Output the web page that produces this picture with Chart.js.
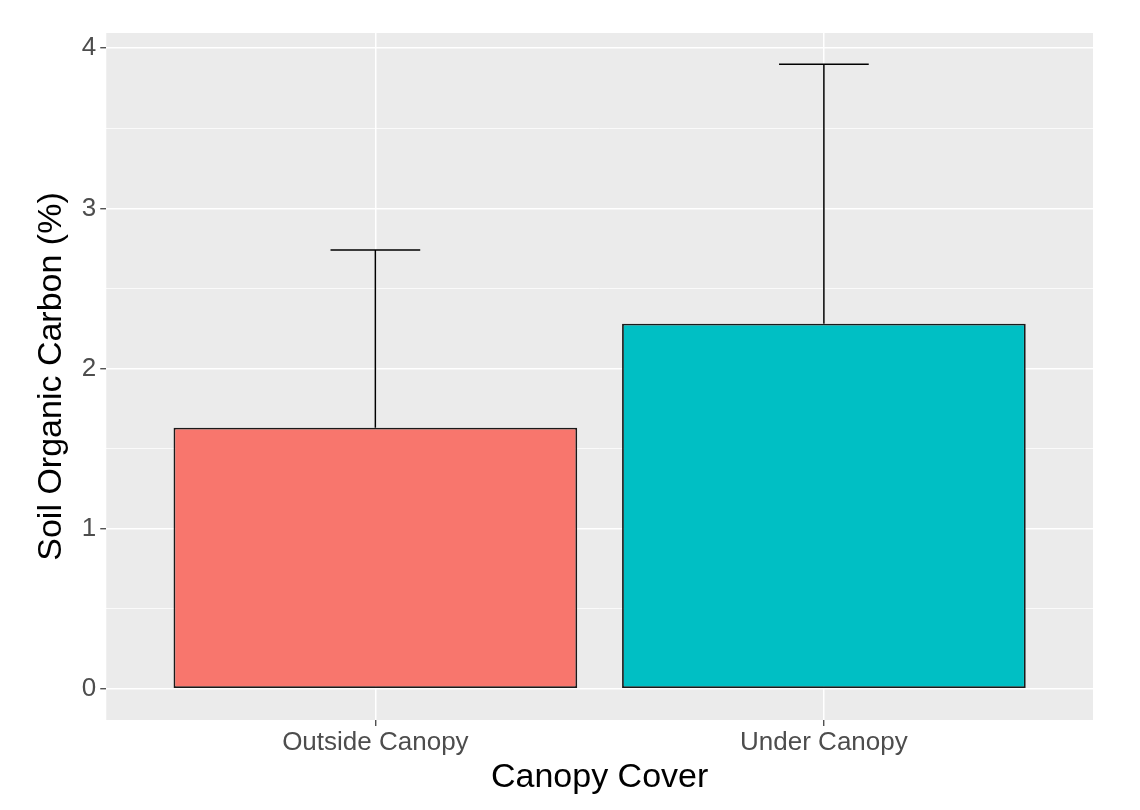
<!DOCTYPE html>
<html>
<head>
<meta charset="utf-8">
<script src="https://cdn.jsdelivr.net/npm/chart.js@4"></script>
<style>
  body { margin: 0; background: #fff; }
  #wrap { width: 1140px; height: 810px; }
</style>
</head>
<body>
<div id="wrap"><canvas id="socChart" width="1140" height="810"></canvas></div>
<script>
const categories = ['Outside Canopy', 'Under Canopy'];
const catPositions = [1, 2];
const meanSOC = [1.63, 2.28];
const upperSOC = [2.74, 3.90];
const yMajorTicks = [0, 1, 2, 3, 4];
const yMinorTicks = [0.5, 1.5, 2.5, 3.5];
const barColors = ['#F8766D', '#00BFC4'];

const FONT = '"Liberation Sans", Arial, sans-serif';

// grey ggplot panel behind the grid
const panelBg = {
    id: 'panelBg',
    beforeDraw(chart) {
        const a = chart.chartArea;
        const ctx = chart.ctx;
        ctx.save();
        ctx.fillStyle = '#EBEBEB';
        ctx.fillRect(a.left, a.top, a.right - a.left, a.bottom - a.top);
        ctx.restore();
    }
};

// upper error bars, mean -> upper with a cap 0.2 units wide
const errorBars = {
    id: 'errorBars',
    afterDatasetsDraw(chart) {
        const x = chart.scales.x, y = chart.scales.y;
        const ctx = chart.ctx;
        ctx.save();
        ctx.strokeStyle = '#000';
        ctx.lineWidth = 1.5;
        catPositions.forEach((pos, i) => {
            const px = x.getPixelForValue(pos);
            const yTop = y.getPixelForValue(upperSOC[i]);
            const yMean = y.getPixelForValue(meanSOC[i]);
            ctx.beginPath();
            ctx.moveTo(px, yMean);
            ctx.lineTo(px, yTop);
            ctx.moveTo(x.getPixelForValue(pos - 0.1), yTop);
            ctx.lineTo(x.getPixelForValue(pos + 0.1), yTop);
            ctx.stroke();
        });
        ctx.restore();
    }
};

const isMajor = v => yMajorTicks.includes(v);

new Chart(document.getElementById('socChart').getContext('2d'), {
    type: 'bar',
    data: {
        datasets: [{
            data: catPositions.map((p, i) => ({ x: p, y: meanSOC[i] })),
            backgroundColor: barColors,
            borderColor: '#1a1a1a',
            borderWidth: 1.8,
            borderSkipped: false,
            barPercentage: 0.9,
            categoryPercentage: 1.0
        }]
    },
    options: {
        responsive: false,
        animation: false,
        devicePixelRatio: 1,
        layout: { padding: { top: 33, right: 47, left: 31, bottom: 15 } },
        plugins: {
            legend: { display: false },
            tooltip: { enabled: false }
        },
        scales: {
            x: {
                type: 'linear',
                min: 0.4,
                max: 2.6,
                offset: false,
                afterBuildTicks: axis => {
                    axis.ticks = catPositions.map(v => ({ value: v }));
                },
                ticks: {
                    autoSkip: false,
                    maxRotation: 0,
                    color: '#4D4D4D',
                    font: { family: FONT, size: 26, lineHeight: 1 },
                    padding: 4,
                    callback: v => categories[catPositions.indexOf(v)]
                },
                grid: {
                    offset: false,
                    color: '#FFFFFF',
                    lineWidth: 1.5,
                    tickColor: '#333333',
                    tickLength: 6,
                    tickWidth: 1.2
                },
                border: { display: false },
                title: {
                    display: true,
                    text: 'Canopy Cover',
                    color: '#000',
                    font: { family: FONT, size: 34, lineHeight: 1 },
                    padding: { top: 1, bottom: 0 }
                }
            },
            y: {
                min: -0.195,
                max: 4.095,
                afterBuildTicks: axis => {
                    axis.ticks = [...yMajorTicks, ...yMinorTicks].sort((a, b) => a - b).map(v => ({ value: v }));
                },
                ticks: {
                    autoSkip: false,
                    color: '#4D4D4D',
                    font: { family: FONT, size: 26 },
                    padding: 4,
                    callback: v => isMajor(v) ? String(v) : ''
                },
                grid: {
                    color: '#FFFFFF',
                    lineWidth: ctx => (ctx.tick && isMajor(ctx.tick.value)) ? 1.5 : 0.75,
                    tickColor: ctx => (ctx.tick && isMajor(ctx.tick.value)) ? '#333333' : 'rgba(0,0,0,0)',
                    tickLength: 6,
                    tickWidth: 1.2
                },
                border: { display: false },
                title: {
                    display: true,
                    text: 'Soil Organic Carbon (%)',
                    color: '#000',
                    font: { family: FONT, size: 34 },
                    padding: { top: 0, bottom: 6 }
                }
            }
        }
    },
    plugins: [panelBg, errorBars]
});
</script>
</body>
</html>
